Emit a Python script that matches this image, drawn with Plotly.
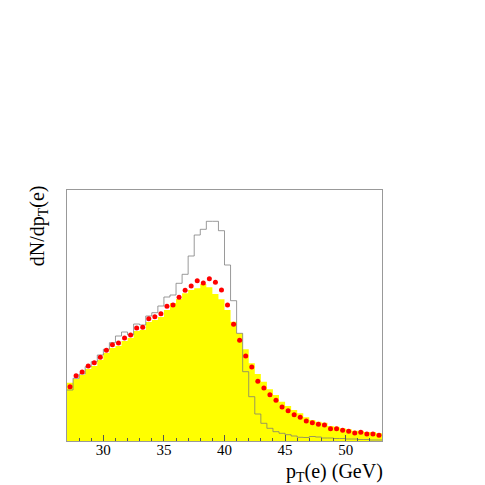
import numpy as np
import plotly.graph_objects as go

# bin edges in pT(e), 0.5 GeV bins from 27 to 53
bin_edges = np.arange(27.0, 53.01, 0.5)
bin_centres = bin_edges[:-1] + 0.25

# red points (reference / data)
points = [54.3, 65.3, 69.0, 75.0, 78.3, 83.7, 90.7, 96.3, 98.0, 103.0,
          106.0, 113.0, 113.7, 122.3, 124.3, 127.3, 134.7, 136.0, 143.7, 150.7,
          155.0, 160.3, 158.0, 162.3, 158.7, 151.0, 136.0, 116.7, 100.7, 85.0,
          74.0, 59.7, 53.0, 46.3, 40.7, 34.0, 30.3, 26.3, 23.7, 20.0,
          18.3, 16.7, 16.0, 12.3, 12.3, 10.7, 9.7, 8.0, 8.7, 7.0,
          7.0, 5.7]

# yellow filled histogram
filled = [58.3, 62.0, 66.0, 72.0, 75.0, 81.0, 88.0, 93.0, 95.0, 100.0,
          103.0, 110.0, 111.0, 119.0, 121.0, 124.0, 131.0, 138.0, 142.0, 147.7,
          151.0, 152.7, 157.0, 153.7, 147.0, 141.7, 131.0, 119.3, 107.7, 91.7,
          77.7, 67.0, 59.3, 51.7, 46.0, 39.3, 35.0, 31.0, 27.7, 23.7,
          21.0, 19.3, 18.3, 15.0, 14.3, 12.7, 11.7, 10.3, 10.3, 9.0,
          9.0, 7.7]

# grey outline histogram
outline = [51.0, 62.7, 67.0, 74.3, 79.3, 86.0, 91.7, 98.3, 105.0, 109.0,
           106.0, 117.0, 116.0, 125.0, 128.3, 135.0, 144.0, 146.0, 157.7, 166.7,
           185.0, 206.0, 211.7, 219.7, 219.7, 210.3, 176.0, 140.3, 107.7, 69.3,
           44.3, 27.0, 17.7, 12.7, 9.3, 7.7, 6.3, 5.0, 3.7, 3.5,
           4.5, 4.0, 3.0, 3.0, 2.5, 2.5, 2.0, 2.0, 1.5, 1.5,
           1.0, 1.0]

serif = 'Times New Roman, Liberation Serif, DejaVu Serif, serif'

fig = go.Figure()
fig.add_scatter(x=bin_edges, y=filled + [filled[-1]],
                mode='lines', line={'shape': 'hv', 'width': 0, 'color': '#ffff00'},
                fill='tozeroy', fillcolor='#ffff00', showlegend=False)
fig.add_scatter(x=bin_edges, y=outline + [outline[-1]],
                mode='lines', line={'shape': 'hv', 'width': 1, 'color': 'rgba(120,120,120,0.75)'},
                showlegend=False)
fig.add_scatter(x=bin_centres, y=points, mode='markers',
                marker={'color': '#ff0000', 'size': 5, 'symbol': 'circle'},
                showlegend=False)

# the page body adds an 8px margin, so the figure is 477 px and sits at (8, 8)
fig.update_layout(
    width=477, height=477,
    margin={'l': 59, 'r': 103, 't': 182, 'b': 44},
    plot_bgcolor='white', paper_bgcolor='white',
    font={'family': serif, 'color': 'black', 'size': 15},
    xaxis={'range': [27, 53], 'showgrid': False, 'zeroline': False,
           'showline': True, 'linecolor': '#999999', 'mirror': True,
           'ticks': 'inside', 'ticklen': 6, 'tickcolor': '#555555',
           'tick0': 30, 'dtick': 5, 'ticklabelstandoff': -5,
           'minor': {'ticks': 'inside', 'ticklen': 3, 'dtick': 1, 'tickcolor': '#555555'},
           'tickfont': {'size': 15}},
    yaxis={'range': [0, 251], 'showgrid': False, 'zeroline': False,
           'showline': True, 'linecolor': '#999999', 'mirror': True,
           'showticklabels': False, 'ticks': ''},
    annotations=[
        {'text': 'dN/dp<sub>T</sub>(e)', 'textangle': -90, 'showarrow': False,
         'xref': 'paper', 'yref': 'paper', 'x': -0.092, 'y': 1.025,
         'xanchor': 'center', 'yanchor': 'top', 'font': {'size': 20}},
        {'text': 'p<sub>T</sub>(e) (GeV)', 'showarrow': False,
         'xref': 'paper', 'yref': 'paper', 'x': 1.01, 'y': -0.068,
         'xanchor': 'right', 'yanchor': 'top', 'font': {'size': 20}},
    ],
)

fig.write_html('out.html')
